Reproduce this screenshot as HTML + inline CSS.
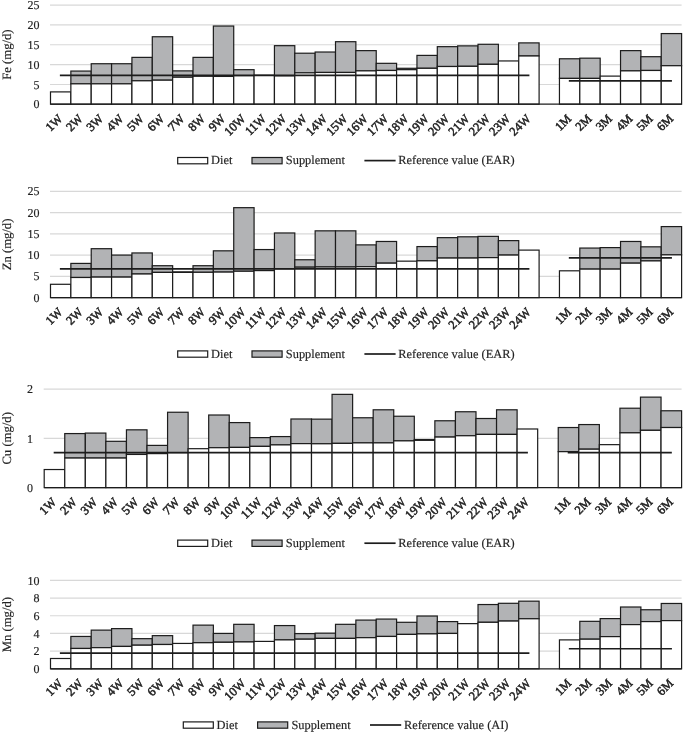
<!DOCTYPE html>
<html><head><meta charset="utf-8"><title>Mineral intake charts</title>
<style>html,body{margin:0;padding:0;background:#fff}svg{display:block}text{stroke:#222222;stroke-width:.15px;text-rendering:geometricPrecision}text.xl{stroke-width:.5px}</style></head>
<body>
<svg width="685" height="735" viewBox="0 0 685 735" font-family="'Liberation Serif', 'Times New Roman', serif" font-size="12.4" fill="#222222">
<rect width="685" height="735" fill="#fff"/>
<g>
<text x="39.40" y="108.35" text-anchor="end" font-size="12">0</text>
<line x1="50.00" x2="681.60" y1="84.46" y2="84.46" stroke="#d8d8d8" stroke-width="1.15"/>
<text x="39.40" y="88.51" text-anchor="end" font-size="12">5</text>
<line x1="50.00" x2="681.60" y1="64.62" y2="64.62" stroke="#d8d8d8" stroke-width="1.15"/>
<text x="39.40" y="68.67" text-anchor="end" font-size="12">10</text>
<line x1="50.00" x2="681.60" y1="44.78" y2="44.78" stroke="#d8d8d8" stroke-width="1.15"/>
<text x="39.40" y="48.83" text-anchor="end" font-size="12">15</text>
<line x1="50.00" x2="681.60" y1="24.94" y2="24.94" stroke="#d8d8d8" stroke-width="1.15"/>
<text x="39.40" y="28.99" text-anchor="end" font-size="12">20</text>
<line x1="50.00" x2="681.60" y1="5.10" y2="5.10" stroke="#d8d8d8" stroke-width="1.15"/>
<text x="39.40" y="9.15" text-anchor="end" font-size="12">25</text>
<text transform="translate(10.9 54.60) rotate(-90)" text-anchor="middle" font-size="12.7">Fe (mg/d)</text>
<rect x="50.50" y="91.90" width="20.36" height="12.30" fill="#fff" stroke="#1c1c1c" stroke-width="1.2"/>
<rect x="70.86" y="71.07" width="20.36" height="12.78" fill="#b2b3b5" stroke="#1c1c1c" stroke-width="1.2"/>
<rect x="70.86" y="83.84" width="20.36" height="20.36" fill="#fff" stroke="#1c1c1c" stroke-width="1.2"/>
<rect x="91.22" y="63.73" width="20.36" height="20.12" fill="#b2b3b5" stroke="#1c1c1c" stroke-width="1.2"/>
<rect x="91.22" y="83.84" width="20.36" height="20.36" fill="#fff" stroke="#1c1c1c" stroke-width="1.2"/>
<rect x="111.57" y="63.73" width="20.36" height="20.12" fill="#b2b3b5" stroke="#1c1c1c" stroke-width="1.2"/>
<rect x="111.57" y="83.84" width="20.36" height="20.36" fill="#fff" stroke="#1c1c1c" stroke-width="1.2"/>
<rect x="131.93" y="57.38" width="20.36" height="23.41" fill="#b2b3b5" stroke="#1c1c1c" stroke-width="1.2"/>
<rect x="131.93" y="80.79" width="20.36" height="23.41" fill="#fff" stroke="#1c1c1c" stroke-width="1.2"/>
<rect x="152.29" y="36.74" width="20.36" height="43.45" fill="#b2b3b5" stroke="#1c1c1c" stroke-width="1.2"/>
<rect x="152.29" y="80.19" width="20.36" height="24.01" fill="#fff" stroke="#1c1c1c" stroke-width="1.2"/>
<rect x="172.65" y="70.87" width="20.36" height="6.35" fill="#b2b3b5" stroke="#1c1c1c" stroke-width="1.2"/>
<rect x="172.65" y="77.22" width="20.36" height="26.98" fill="#fff" stroke="#1c1c1c" stroke-width="1.2"/>
<rect x="193.01" y="57.38" width="20.36" height="18.85" fill="#b2b3b5" stroke="#1c1c1c" stroke-width="1.2"/>
<rect x="193.01" y="76.23" width="20.36" height="27.97" fill="#fff" stroke="#1c1c1c" stroke-width="1.2"/>
<rect x="213.36" y="26.03" width="20.36" height="50.39" fill="#b2b3b5" stroke="#1c1c1c" stroke-width="1.2"/>
<rect x="213.36" y="76.42" width="20.36" height="27.78" fill="#fff" stroke="#1c1c1c" stroke-width="1.2"/>
<rect x="233.72" y="69.68" width="20.36" height="5.95" fill="#b2b3b5" stroke="#1c1c1c" stroke-width="1.2"/>
<rect x="233.72" y="75.63" width="20.36" height="28.57" fill="#fff" stroke="#1c1c1c" stroke-width="1.2"/>
<rect x="254.08" y="75.23" width="20.36" height="28.97" fill="#fff" stroke="#1c1c1c" stroke-width="1.2"/>
<rect x="274.44" y="45.67" width="20.36" height="30.16" fill="#b2b3b5" stroke="#1c1c1c" stroke-width="1.2"/>
<rect x="274.44" y="75.83" width="20.36" height="28.37" fill="#fff" stroke="#1c1c1c" stroke-width="1.2"/>
<rect x="294.80" y="53.21" width="20.36" height="19.64" fill="#b2b3b5" stroke="#1c1c1c" stroke-width="1.2"/>
<rect x="294.80" y="72.85" width="20.36" height="31.35" fill="#fff" stroke="#1c1c1c" stroke-width="1.2"/>
<rect x="315.15" y="52.02" width="20.36" height="20.44" fill="#b2b3b5" stroke="#1c1c1c" stroke-width="1.2"/>
<rect x="315.15" y="72.46" width="20.36" height="31.74" fill="#fff" stroke="#1c1c1c" stroke-width="1.2"/>
<rect x="335.51" y="41.70" width="20.36" height="30.75" fill="#b2b3b5" stroke="#1c1c1c" stroke-width="1.2"/>
<rect x="335.51" y="72.46" width="20.36" height="31.74" fill="#fff" stroke="#1c1c1c" stroke-width="1.2"/>
<rect x="355.87" y="50.63" width="20.36" height="20.24" fill="#b2b3b5" stroke="#1c1c1c" stroke-width="1.2"/>
<rect x="355.87" y="70.87" width="20.36" height="33.33" fill="#fff" stroke="#1c1c1c" stroke-width="1.2"/>
<rect x="376.23" y="63.33" width="20.36" height="7.14" fill="#b2b3b5" stroke="#1c1c1c" stroke-width="1.2"/>
<rect x="376.23" y="70.47" width="20.36" height="33.73" fill="#fff" stroke="#1c1c1c" stroke-width="1.2"/>
<rect x="396.59" y="68.29" width="20.36" height="1.39" fill="#b2b3b5" stroke="#1c1c1c" stroke-width="1.2"/>
<rect x="396.59" y="69.68" width="20.36" height="34.52" fill="#fff" stroke="#1c1c1c" stroke-width="1.2"/>
<rect x="416.95" y="55.39" width="20.36" height="12.90" fill="#b2b3b5" stroke="#1c1c1c" stroke-width="1.2"/>
<rect x="416.95" y="68.29" width="20.36" height="35.91" fill="#fff" stroke="#1c1c1c" stroke-width="1.2"/>
<rect x="437.30" y="46.66" width="20.36" height="19.84" fill="#b2b3b5" stroke="#1c1c1c" stroke-width="1.2"/>
<rect x="437.30" y="66.50" width="20.36" height="37.70" fill="#fff" stroke="#1c1c1c" stroke-width="1.2"/>
<rect x="457.66" y="45.87" width="20.36" height="20.44" fill="#b2b3b5" stroke="#1c1c1c" stroke-width="1.2"/>
<rect x="457.66" y="66.31" width="20.36" height="37.89" fill="#fff" stroke="#1c1c1c" stroke-width="1.2"/>
<rect x="478.02" y="44.28" width="20.36" height="20.04" fill="#b2b3b5" stroke="#1c1c1c" stroke-width="1.2"/>
<rect x="478.02" y="64.32" width="20.36" height="39.88" fill="#fff" stroke="#1c1c1c" stroke-width="1.2"/>
<rect x="498.38" y="60.95" width="20.36" height="43.25" fill="#fff" stroke="#1c1c1c" stroke-width="1.2"/>
<rect x="518.74" y="42.89" width="20.36" height="13.09" fill="#b2b3b5" stroke="#1c1c1c" stroke-width="1.2"/>
<rect x="518.74" y="55.99" width="20.36" height="48.21" fill="#fff" stroke="#1c1c1c" stroke-width="1.2"/>
<rect x="559.45" y="58.77" width="20.36" height="19.64" fill="#b2b3b5" stroke="#1c1c1c" stroke-width="1.2"/>
<rect x="559.45" y="78.41" width="20.36" height="25.79" fill="#fff" stroke="#1c1c1c" stroke-width="1.2"/>
<rect x="579.81" y="58.17" width="20.36" height="20.24" fill="#b2b3b5" stroke="#1c1c1c" stroke-width="1.2"/>
<rect x="579.81" y="78.41" width="20.36" height="25.79" fill="#fff" stroke="#1c1c1c" stroke-width="1.2"/>
<rect x="600.17" y="76.11" width="20.36" height="28.09" fill="#fff" stroke="#1c1c1c" stroke-width="1.2"/>
<rect x="620.53" y="50.63" width="20.36" height="20.24" fill="#b2b3b5" stroke="#1c1c1c" stroke-width="1.2"/>
<rect x="620.53" y="70.87" width="20.36" height="33.33" fill="#fff" stroke="#1c1c1c" stroke-width="1.2"/>
<rect x="640.88" y="56.70" width="20.36" height="13.77" fill="#b2b3b5" stroke="#1c1c1c" stroke-width="1.2"/>
<rect x="640.88" y="70.47" width="20.36" height="33.73" fill="#fff" stroke="#1c1c1c" stroke-width="1.2"/>
<rect x="661.24" y="33.57" width="20.36" height="32.14" fill="#b2b3b5" stroke="#1c1c1c" stroke-width="1.2"/>
<rect x="661.24" y="65.71" width="20.36" height="38.49" fill="#fff" stroke="#1c1c1c" stroke-width="1.2"/>
<line x1="50.50" x2="681.60" y1="104.20" y2="104.20" stroke="#1c1c1c" stroke-width="1.2"/>
<line x1="59.88" x2="529.41" y1="75.31" y2="75.31" stroke="#1c1c1c" stroke-width="1.7"/>
<line x1="568.83" x2="671.92" y1="80.79" y2="80.79" stroke="#1c1c1c" stroke-width="1.7"/>
<text transform="translate(63.18 119.40) rotate(-45)" text-anchor="end" class="xl">1W</text>
<text transform="translate(83.54 119.40) rotate(-45)" text-anchor="end" class="xl">2W</text>
<text transform="translate(103.90 119.40) rotate(-45)" text-anchor="end" class="xl">3W</text>
<text transform="translate(124.25 119.40) rotate(-45)" text-anchor="end" class="xl">4W</text>
<text transform="translate(144.61 119.40) rotate(-45)" text-anchor="end" class="xl">5W</text>
<text transform="translate(164.97 119.40) rotate(-45)" text-anchor="end" class="xl">6W</text>
<text transform="translate(185.33 119.40) rotate(-45)" text-anchor="end" class="xl">7W</text>
<text transform="translate(205.69 119.40) rotate(-45)" text-anchor="end" class="xl">8W</text>
<text transform="translate(226.04 119.40) rotate(-45)" text-anchor="end" class="xl">9W</text>
<text transform="translate(246.40 119.40) rotate(-45)" text-anchor="end" class="xl">10W</text>
<text transform="translate(266.76 119.40) rotate(-45)" text-anchor="end" class="xl">11W</text>
<text transform="translate(287.12 119.40) rotate(-45)" text-anchor="end" class="xl">12W</text>
<text transform="translate(307.48 119.40) rotate(-45)" text-anchor="end" class="xl">13W</text>
<text transform="translate(327.83 119.40) rotate(-45)" text-anchor="end" class="xl">14W</text>
<text transform="translate(348.19 119.40) rotate(-45)" text-anchor="end" class="xl">15W</text>
<text transform="translate(368.55 119.40) rotate(-45)" text-anchor="end" class="xl">16W</text>
<text transform="translate(388.91 119.40) rotate(-45)" text-anchor="end" class="xl">17W</text>
<text transform="translate(409.27 119.40) rotate(-45)" text-anchor="end" class="xl">18W</text>
<text transform="translate(429.62 119.40) rotate(-45)" text-anchor="end" class="xl">19W</text>
<text transform="translate(449.98 119.40) rotate(-45)" text-anchor="end" class="xl">20W</text>
<text transform="translate(470.34 119.40) rotate(-45)" text-anchor="end" class="xl">21W</text>
<text transform="translate(490.70 119.40) rotate(-45)" text-anchor="end" class="xl">22W</text>
<text transform="translate(511.06 119.40) rotate(-45)" text-anchor="end" class="xl">23W</text>
<text transform="translate(531.41 119.40) rotate(-45)" text-anchor="end" class="xl">24W</text>
<text transform="translate(572.13 119.40) rotate(-45)" text-anchor="end" class="xl">1M</text>
<text transform="translate(592.49 119.40) rotate(-45)" text-anchor="end" class="xl">2M</text>
<text transform="translate(612.85 119.40) rotate(-45)" text-anchor="end" class="xl">3M</text>
<text transform="translate(633.20 119.40) rotate(-45)" text-anchor="end" class="xl">4M</text>
<text transform="translate(653.56 119.40) rotate(-45)" text-anchor="end" class="xl">5M</text>
<text transform="translate(673.92 119.40) rotate(-45)" text-anchor="end" class="xl">6M</text>
<rect x="177.70" y="157.50" width="30.0" height="6.3" fill="#fff" stroke="#1c1c1c" stroke-width="1.2"/>
<text x="211.00" y="164.40">Diet</text>
<rect x="252.00" y="157.50" width="30.1" height="6.3" fill="#b2b3b5" stroke="#1c1c1c" stroke-width="1.2"/>
<text x="285.80" y="164.40">Supplement</text>
<line x1="364.40" x2="395.60" y1="160.60" y2="160.60" stroke="#1c1c1c" stroke-width="1.7"/>
<text x="398.30" y="164.40">Reference value (EAR)</text>
</g>
<g>
<text x="39.40" y="301.75" text-anchor="end" font-size="12">0</text>
<line x1="50.00" x2="681.60" y1="276.34" y2="276.34" stroke="#d8d8d8" stroke-width="1.15"/>
<text x="39.40" y="280.49" text-anchor="end" font-size="12">5</text>
<line x1="50.00" x2="681.60" y1="255.08" y2="255.08" stroke="#d8d8d8" stroke-width="1.15"/>
<text x="39.40" y="259.23" text-anchor="end" font-size="12">10</text>
<line x1="50.00" x2="681.60" y1="233.82" y2="233.82" stroke="#d8d8d8" stroke-width="1.15"/>
<text x="39.40" y="237.97" text-anchor="end" font-size="12">15</text>
<line x1="50.00" x2="681.60" y1="212.56" y2="212.56" stroke="#d8d8d8" stroke-width="1.15"/>
<text x="39.40" y="216.71" text-anchor="end" font-size="12">20</text>
<line x1="50.00" x2="681.60" y1="191.30" y2="191.30" stroke="#d8d8d8" stroke-width="1.15"/>
<text x="39.40" y="195.45" text-anchor="end" font-size="12">25</text>
<text transform="translate(10.9 244.45) rotate(-90)" text-anchor="middle" font-size="12.7">Zn (mg/d)</text>
<rect x="50.50" y="284.29" width="20.36" height="13.31" fill="#fff" stroke="#1c1c1c" stroke-width="1.2"/>
<rect x="70.86" y="263.41" width="20.36" height="14.07" fill="#b2b3b5" stroke="#1c1c1c" stroke-width="1.2"/>
<rect x="70.86" y="277.49" width="20.36" height="20.11" fill="#fff" stroke="#1c1c1c" stroke-width="1.2"/>
<rect x="91.22" y="248.70" width="20.36" height="28.40" fill="#b2b3b5" stroke="#1c1c1c" stroke-width="1.2"/>
<rect x="91.22" y="277.11" width="20.36" height="20.49" fill="#fff" stroke="#1c1c1c" stroke-width="1.2"/>
<rect x="111.57" y="255.08" width="20.36" height="22.03" fill="#b2b3b5" stroke="#1c1c1c" stroke-width="1.2"/>
<rect x="111.57" y="277.11" width="20.36" height="20.49" fill="#fff" stroke="#1c1c1c" stroke-width="1.2"/>
<rect x="131.93" y="252.95" width="20.36" height="21.05" fill="#b2b3b5" stroke="#1c1c1c" stroke-width="1.2"/>
<rect x="131.93" y="274.00" width="20.36" height="23.60" fill="#fff" stroke="#1c1c1c" stroke-width="1.2"/>
<rect x="152.29" y="265.71" width="20.36" height="6.68" fill="#b2b3b5" stroke="#1c1c1c" stroke-width="1.2"/>
<rect x="152.29" y="272.39" width="20.36" height="25.21" fill="#fff" stroke="#1c1c1c" stroke-width="1.2"/>
<rect x="172.65" y="271.88" width="20.36" height="0.51" fill="#b2b3b5" stroke="#1c1c1c" stroke-width="1.2"/>
<rect x="172.65" y="272.39" width="20.36" height="25.21" fill="#fff" stroke="#1c1c1c" stroke-width="1.2"/>
<rect x="193.01" y="265.71" width="20.36" height="6.59" fill="#b2b3b5" stroke="#1c1c1c" stroke-width="1.2"/>
<rect x="193.01" y="272.30" width="20.36" height="25.30" fill="#fff" stroke="#1c1c1c" stroke-width="1.2"/>
<rect x="213.36" y="250.83" width="20.36" height="21.26" fill="#b2b3b5" stroke="#1c1c1c" stroke-width="1.2"/>
<rect x="213.36" y="272.09" width="20.36" height="25.51" fill="#fff" stroke="#1c1c1c" stroke-width="1.2"/>
<rect x="233.72" y="207.67" width="20.36" height="63.57" fill="#b2b3b5" stroke="#1c1c1c" stroke-width="1.2"/>
<rect x="233.72" y="271.24" width="20.36" height="26.36" fill="#fff" stroke="#1c1c1c" stroke-width="1.2"/>
<rect x="254.08" y="249.55" width="20.36" height="21.05" fill="#b2b3b5" stroke="#1c1c1c" stroke-width="1.2"/>
<rect x="254.08" y="270.60" width="20.36" height="27.00" fill="#fff" stroke="#1c1c1c" stroke-width="1.2"/>
<rect x="274.44" y="232.97" width="20.36" height="35.72" fill="#b2b3b5" stroke="#1c1c1c" stroke-width="1.2"/>
<rect x="274.44" y="268.69" width="20.36" height="28.91" fill="#fff" stroke="#1c1c1c" stroke-width="1.2"/>
<rect x="294.80" y="259.76" width="20.36" height="7.44" fill="#b2b3b5" stroke="#1c1c1c" stroke-width="1.2"/>
<rect x="294.80" y="267.20" width="20.36" height="30.40" fill="#fff" stroke="#1c1c1c" stroke-width="1.2"/>
<rect x="315.15" y="230.84" width="20.36" height="36.14" fill="#b2b3b5" stroke="#1c1c1c" stroke-width="1.2"/>
<rect x="315.15" y="266.99" width="20.36" height="30.61" fill="#fff" stroke="#1c1c1c" stroke-width="1.2"/>
<rect x="335.51" y="230.84" width="20.36" height="36.14" fill="#b2b3b5" stroke="#1c1c1c" stroke-width="1.2"/>
<rect x="335.51" y="266.99" width="20.36" height="30.61" fill="#fff" stroke="#1c1c1c" stroke-width="1.2"/>
<rect x="355.87" y="244.88" width="20.36" height="21.81" fill="#b2b3b5" stroke="#1c1c1c" stroke-width="1.2"/>
<rect x="355.87" y="266.69" width="20.36" height="30.91" fill="#fff" stroke="#1c1c1c" stroke-width="1.2"/>
<rect x="376.23" y="241.47" width="20.36" height="21.69" fill="#b2b3b5" stroke="#1c1c1c" stroke-width="1.2"/>
<rect x="376.23" y="263.16" width="20.36" height="34.44" fill="#fff" stroke="#1c1c1c" stroke-width="1.2"/>
<rect x="396.59" y="261.16" width="20.36" height="36.44" fill="#fff" stroke="#1c1c1c" stroke-width="1.2"/>
<rect x="416.95" y="246.58" width="20.36" height="14.24" fill="#b2b3b5" stroke="#1c1c1c" stroke-width="1.2"/>
<rect x="416.95" y="260.82" width="20.36" height="36.78" fill="#fff" stroke="#1c1c1c" stroke-width="1.2"/>
<rect x="437.30" y="237.65" width="20.36" height="20.41" fill="#b2b3b5" stroke="#1c1c1c" stroke-width="1.2"/>
<rect x="437.30" y="258.06" width="20.36" height="39.54" fill="#fff" stroke="#1c1c1c" stroke-width="1.2"/>
<rect x="457.66" y="236.80" width="20.36" height="21.26" fill="#b2b3b5" stroke="#1c1c1c" stroke-width="1.2"/>
<rect x="457.66" y="258.06" width="20.36" height="39.54" fill="#fff" stroke="#1c1c1c" stroke-width="1.2"/>
<rect x="478.02" y="236.37" width="20.36" height="21.26" fill="#b2b3b5" stroke="#1c1c1c" stroke-width="1.2"/>
<rect x="478.02" y="257.63" width="20.36" height="39.97" fill="#fff" stroke="#1c1c1c" stroke-width="1.2"/>
<rect x="498.38" y="240.62" width="20.36" height="14.46" fill="#b2b3b5" stroke="#1c1c1c" stroke-width="1.2"/>
<rect x="498.38" y="255.08" width="20.36" height="42.52" fill="#fff" stroke="#1c1c1c" stroke-width="1.2"/>
<rect x="518.74" y="250.11" width="20.36" height="47.49" fill="#fff" stroke="#1c1c1c" stroke-width="1.2"/>
<rect x="559.45" y="270.81" width="20.36" height="26.79" fill="#fff" stroke="#1c1c1c" stroke-width="1.2"/>
<rect x="579.81" y="248.06" width="20.36" height="21.05" fill="#b2b3b5" stroke="#1c1c1c" stroke-width="1.2"/>
<rect x="579.81" y="269.11" width="20.36" height="28.49" fill="#fff" stroke="#1c1c1c" stroke-width="1.2"/>
<rect x="600.17" y="247.60" width="20.36" height="21.52" fill="#b2b3b5" stroke="#1c1c1c" stroke-width="1.2"/>
<rect x="600.17" y="269.11" width="20.36" height="28.49" fill="#fff" stroke="#1c1c1c" stroke-width="1.2"/>
<rect x="620.53" y="241.47" width="20.36" height="21.69" fill="#b2b3b5" stroke="#1c1c1c" stroke-width="1.2"/>
<rect x="620.53" y="263.16" width="20.36" height="34.44" fill="#fff" stroke="#1c1c1c" stroke-width="1.2"/>
<rect x="640.88" y="246.83" width="20.36" height="14.07" fill="#b2b3b5" stroke="#1c1c1c" stroke-width="1.2"/>
<rect x="640.88" y="260.91" width="20.36" height="36.69" fill="#fff" stroke="#1c1c1c" stroke-width="1.2"/>
<rect x="661.24" y="226.59" width="20.36" height="28.28" fill="#b2b3b5" stroke="#1c1c1c" stroke-width="1.2"/>
<rect x="661.24" y="254.87" width="20.36" height="42.73" fill="#fff" stroke="#1c1c1c" stroke-width="1.2"/>
<line x1="50.50" x2="681.60" y1="297.60" y2="297.60" stroke="#1c1c1c" stroke-width="1.2"/>
<line x1="59.88" x2="529.41" y1="268.86" y2="268.86" stroke="#1c1c1c" stroke-width="1.7"/>
<line x1="568.83" x2="671.92" y1="257.89" y2="257.89" stroke="#1c1c1c" stroke-width="1.7"/>
<text transform="translate(63.18 312.80) rotate(-45)" text-anchor="end" class="xl">1W</text>
<text transform="translate(83.54 312.80) rotate(-45)" text-anchor="end" class="xl">2W</text>
<text transform="translate(103.90 312.80) rotate(-45)" text-anchor="end" class="xl">3W</text>
<text transform="translate(124.25 312.80) rotate(-45)" text-anchor="end" class="xl">4W</text>
<text transform="translate(144.61 312.80) rotate(-45)" text-anchor="end" class="xl">5W</text>
<text transform="translate(164.97 312.80) rotate(-45)" text-anchor="end" class="xl">6W</text>
<text transform="translate(185.33 312.80) rotate(-45)" text-anchor="end" class="xl">7W</text>
<text transform="translate(205.69 312.80) rotate(-45)" text-anchor="end" class="xl">8W</text>
<text transform="translate(226.04 312.80) rotate(-45)" text-anchor="end" class="xl">9W</text>
<text transform="translate(246.40 312.80) rotate(-45)" text-anchor="end" class="xl">10W</text>
<text transform="translate(266.76 312.80) rotate(-45)" text-anchor="end" class="xl">11W</text>
<text transform="translate(287.12 312.80) rotate(-45)" text-anchor="end" class="xl">12W</text>
<text transform="translate(307.48 312.80) rotate(-45)" text-anchor="end" class="xl">13W</text>
<text transform="translate(327.83 312.80) rotate(-45)" text-anchor="end" class="xl">14W</text>
<text transform="translate(348.19 312.80) rotate(-45)" text-anchor="end" class="xl">15W</text>
<text transform="translate(368.55 312.80) rotate(-45)" text-anchor="end" class="xl">16W</text>
<text transform="translate(388.91 312.80) rotate(-45)" text-anchor="end" class="xl">17W</text>
<text transform="translate(409.27 312.80) rotate(-45)" text-anchor="end" class="xl">18W</text>
<text transform="translate(429.62 312.80) rotate(-45)" text-anchor="end" class="xl">19W</text>
<text transform="translate(449.98 312.80) rotate(-45)" text-anchor="end" class="xl">20W</text>
<text transform="translate(470.34 312.80) rotate(-45)" text-anchor="end" class="xl">21W</text>
<text transform="translate(490.70 312.80) rotate(-45)" text-anchor="end" class="xl">22W</text>
<text transform="translate(511.06 312.80) rotate(-45)" text-anchor="end" class="xl">23W</text>
<text transform="translate(531.41 312.80) rotate(-45)" text-anchor="end" class="xl">24W</text>
<text transform="translate(572.13 312.80) rotate(-45)" text-anchor="end" class="xl">1M</text>
<text transform="translate(592.49 312.80) rotate(-45)" text-anchor="end" class="xl">2M</text>
<text transform="translate(612.85 312.80) rotate(-45)" text-anchor="end" class="xl">3M</text>
<text transform="translate(633.20 312.80) rotate(-45)" text-anchor="end" class="xl">4M</text>
<text transform="translate(653.56 312.80) rotate(-45)" text-anchor="end" class="xl">5M</text>
<text transform="translate(673.92 312.80) rotate(-45)" text-anchor="end" class="xl">6M</text>
<rect x="177.70" y="350.90" width="30.0" height="6.3" fill="#fff" stroke="#1c1c1c" stroke-width="1.2"/>
<text x="211.00" y="357.80">Diet</text>
<rect x="252.00" y="350.90" width="30.1" height="6.3" fill="#b2b3b5" stroke="#1c1c1c" stroke-width="1.2"/>
<text x="285.80" y="357.80">Supplement</text>
<line x1="364.40" x2="395.60" y1="354.00" y2="354.00" stroke="#1c1c1c" stroke-width="1.7"/>
<text x="398.30" y="357.80">Reference value (EAR)</text>
</g>
<g>
<text x="33.10" y="491.75" text-anchor="end" font-size="12">0</text>
<line x1="43.70" x2="681.60" y1="438.35" y2="438.35" stroke="#d8d8d8" stroke-width="1.15"/>
<text x="33.10" y="442.50" text-anchor="end" font-size="12">1</text>
<line x1="43.70" x2="681.60" y1="389.10" y2="389.10" stroke="#d8d8d8" stroke-width="1.15"/>
<text x="33.10" y="393.25" text-anchor="end" font-size="12">2</text>
<text transform="translate(10.9 438.35) rotate(-90)" text-anchor="middle" font-size="12.7">Cu (mg/d)</text>
<rect x="44.20" y="469.53" width="20.56" height="18.07" fill="#fff" stroke="#1c1c1c" stroke-width="1.2"/>
<rect x="64.76" y="433.57" width="20.56" height="24.48" fill="#b2b3b5" stroke="#1c1c1c" stroke-width="1.2"/>
<rect x="64.76" y="458.05" width="20.56" height="29.55" fill="#fff" stroke="#1c1c1c" stroke-width="1.2"/>
<rect x="85.32" y="433.08" width="20.56" height="24.97" fill="#b2b3b5" stroke="#1c1c1c" stroke-width="1.2"/>
<rect x="85.32" y="458.05" width="20.56" height="29.55" fill="#fff" stroke="#1c1c1c" stroke-width="1.2"/>
<rect x="105.88" y="441.31" width="20.56" height="16.74" fill="#b2b3b5" stroke="#1c1c1c" stroke-width="1.2"/>
<rect x="105.88" y="458.05" width="20.56" height="29.55" fill="#fff" stroke="#1c1c1c" stroke-width="1.2"/>
<rect x="126.45" y="429.83" width="20.56" height="24.62" fill="#b2b3b5" stroke="#1c1c1c" stroke-width="1.2"/>
<rect x="126.45" y="454.45" width="20.56" height="33.15" fill="#fff" stroke="#1c1c1c" stroke-width="1.2"/>
<rect x="147.01" y="445.39" width="20.56" height="8.22" fill="#b2b3b5" stroke="#1c1c1c" stroke-width="1.2"/>
<rect x="147.01" y="453.62" width="20.56" height="33.98" fill="#fff" stroke="#1c1c1c" stroke-width="1.2"/>
<rect x="167.57" y="412.25" width="20.56" height="40.39" fill="#b2b3b5" stroke="#1c1c1c" stroke-width="1.2"/>
<rect x="167.57" y="452.63" width="20.56" height="34.97" fill="#fff" stroke="#1c1c1c" stroke-width="1.2"/>
<rect x="188.13" y="448.69" width="20.56" height="38.91" fill="#fff" stroke="#1c1c1c" stroke-width="1.2"/>
<rect x="208.69" y="415.01" width="20.56" height="32.70" fill="#b2b3b5" stroke="#1c1c1c" stroke-width="1.2"/>
<rect x="208.69" y="447.71" width="20.56" height="39.89" fill="#fff" stroke="#1c1c1c" stroke-width="1.2"/>
<rect x="229.25" y="422.59" width="20.56" height="24.82" fill="#b2b3b5" stroke="#1c1c1c" stroke-width="1.2"/>
<rect x="229.25" y="447.41" width="20.56" height="40.19" fill="#fff" stroke="#1c1c1c" stroke-width="1.2"/>
<rect x="249.81" y="437.61" width="20.56" height="8.77" fill="#b2b3b5" stroke="#1c1c1c" stroke-width="1.2"/>
<rect x="249.81" y="446.38" width="20.56" height="41.22" fill="#fff" stroke="#1c1c1c" stroke-width="1.2"/>
<rect x="270.37" y="436.58" width="20.56" height="8.32" fill="#b2b3b5" stroke="#1c1c1c" stroke-width="1.2"/>
<rect x="270.37" y="444.90" width="20.56" height="42.70" fill="#fff" stroke="#1c1c1c" stroke-width="1.2"/>
<rect x="290.94" y="418.99" width="20.56" height="24.62" fill="#b2b3b5" stroke="#1c1c1c" stroke-width="1.2"/>
<rect x="290.94" y="443.62" width="20.56" height="43.98" fill="#fff" stroke="#1c1c1c" stroke-width="1.2"/>
<rect x="311.50" y="419.14" width="20.56" height="24.62" fill="#b2b3b5" stroke="#1c1c1c" stroke-width="1.2"/>
<rect x="311.50" y="443.77" width="20.56" height="43.83" fill="#fff" stroke="#1c1c1c" stroke-width="1.2"/>
<rect x="332.06" y="394.37" width="20.56" height="49.00" fill="#b2b3b5" stroke="#1c1c1c" stroke-width="1.2"/>
<rect x="332.06" y="443.37" width="20.56" height="44.23" fill="#fff" stroke="#1c1c1c" stroke-width="1.2"/>
<rect x="352.62" y="417.76" width="20.56" height="25.12" fill="#b2b3b5" stroke="#1c1c1c" stroke-width="1.2"/>
<rect x="352.62" y="442.88" width="20.56" height="44.72" fill="#fff" stroke="#1c1c1c" stroke-width="1.2"/>
<rect x="373.18" y="409.79" width="20.56" height="33.10" fill="#b2b3b5" stroke="#1c1c1c" stroke-width="1.2"/>
<rect x="373.18" y="442.88" width="20.56" height="44.72" fill="#fff" stroke="#1c1c1c" stroke-width="1.2"/>
<rect x="393.74" y="416.24" width="20.56" height="24.63" fill="#b2b3b5" stroke="#1c1c1c" stroke-width="1.2"/>
<rect x="393.74" y="440.86" width="20.56" height="46.74" fill="#fff" stroke="#1c1c1c" stroke-width="1.2"/>
<rect x="414.30" y="439.63" width="20.56" height="0.69" fill="#b2b3b5" stroke="#1c1c1c" stroke-width="1.2"/>
<rect x="414.30" y="440.32" width="20.56" height="47.28" fill="#fff" stroke="#1c1c1c" stroke-width="1.2"/>
<rect x="434.86" y="420.77" width="20.56" height="16.30" fill="#b2b3b5" stroke="#1c1c1c" stroke-width="1.2"/>
<rect x="434.86" y="437.07" width="20.56" height="50.53" fill="#fff" stroke="#1c1c1c" stroke-width="1.2"/>
<rect x="455.43" y="411.75" width="20.56" height="23.98" fill="#b2b3b5" stroke="#1c1c1c" stroke-width="1.2"/>
<rect x="455.43" y="435.74" width="20.56" height="51.86" fill="#fff" stroke="#1c1c1c" stroke-width="1.2"/>
<rect x="475.99" y="418.50" width="20.56" height="15.91" fill="#b2b3b5" stroke="#1c1c1c" stroke-width="1.2"/>
<rect x="475.99" y="434.41" width="20.56" height="53.19" fill="#fff" stroke="#1c1c1c" stroke-width="1.2"/>
<rect x="496.55" y="409.79" width="20.56" height="24.62" fill="#b2b3b5" stroke="#1c1c1c" stroke-width="1.2"/>
<rect x="496.55" y="434.41" width="20.56" height="53.19" fill="#fff" stroke="#1c1c1c" stroke-width="1.2"/>
<rect x="517.11" y="428.99" width="20.56" height="58.61" fill="#fff" stroke="#1c1c1c" stroke-width="1.2"/>
<rect x="558.23" y="427.52" width="20.56" height="24.13" fill="#b2b3b5" stroke="#1c1c1c" stroke-width="1.2"/>
<rect x="558.23" y="451.65" width="20.56" height="35.95" fill="#fff" stroke="#1c1c1c" stroke-width="1.2"/>
<rect x="578.79" y="424.56" width="20.56" height="24.62" fill="#b2b3b5" stroke="#1c1c1c" stroke-width="1.2"/>
<rect x="578.79" y="449.19" width="20.56" height="38.41" fill="#fff" stroke="#1c1c1c" stroke-width="1.2"/>
<rect x="599.35" y="444.65" width="20.56" height="42.95" fill="#fff" stroke="#1c1c1c" stroke-width="1.2"/>
<rect x="619.92" y="408.21" width="20.56" height="24.62" fill="#b2b3b5" stroke="#1c1c1c" stroke-width="1.2"/>
<rect x="619.92" y="432.83" width="20.56" height="54.77" fill="#fff" stroke="#1c1c1c" stroke-width="1.2"/>
<rect x="640.48" y="397.13" width="20.56" height="33.19" fill="#b2b3b5" stroke="#1c1c1c" stroke-width="1.2"/>
<rect x="640.48" y="430.32" width="20.56" height="57.28" fill="#fff" stroke="#1c1c1c" stroke-width="1.2"/>
<rect x="661.04" y="410.77" width="20.56" height="16.75" fill="#b2b3b5" stroke="#1c1c1c" stroke-width="1.2"/>
<rect x="661.04" y="427.52" width="20.56" height="60.09" fill="#fff" stroke="#1c1c1c" stroke-width="1.2"/>
<line x1="44.20" x2="681.60" y1="487.60" y2="487.60" stroke="#1c1c1c" stroke-width="1.2"/>
<line x1="53.68" x2="527.89" y1="452.63" y2="452.63" stroke="#1c1c1c" stroke-width="1.7"/>
<line x1="567.71" x2="671.82" y1="452.63" y2="452.63" stroke="#1c1c1c" stroke-width="1.7"/>
<text transform="translate(56.98 502.80) rotate(-45)" text-anchor="end" class="xl">1W</text>
<text transform="translate(77.54 502.80) rotate(-45)" text-anchor="end" class="xl">2W</text>
<text transform="translate(98.10 502.80) rotate(-45)" text-anchor="end" class="xl">3W</text>
<text transform="translate(118.66 502.80) rotate(-45)" text-anchor="end" class="xl">4W</text>
<text transform="translate(139.23 502.80) rotate(-45)" text-anchor="end" class="xl">5W</text>
<text transform="translate(159.79 502.80) rotate(-45)" text-anchor="end" class="xl">6W</text>
<text transform="translate(180.35 502.80) rotate(-45)" text-anchor="end" class="xl">7W</text>
<text transform="translate(200.91 502.80) rotate(-45)" text-anchor="end" class="xl">8W</text>
<text transform="translate(221.47 502.80) rotate(-45)" text-anchor="end" class="xl">9W</text>
<text transform="translate(242.03 502.80) rotate(-45)" text-anchor="end" class="xl">10W</text>
<text transform="translate(262.59 502.80) rotate(-45)" text-anchor="end" class="xl">11W</text>
<text transform="translate(283.15 502.80) rotate(-45)" text-anchor="end" class="xl">12W</text>
<text transform="translate(303.72 502.80) rotate(-45)" text-anchor="end" class="xl">13W</text>
<text transform="translate(324.28 502.80) rotate(-45)" text-anchor="end" class="xl">14W</text>
<text transform="translate(344.84 502.80) rotate(-45)" text-anchor="end" class="xl">15W</text>
<text transform="translate(365.40 502.80) rotate(-45)" text-anchor="end" class="xl">16W</text>
<text transform="translate(385.96 502.80) rotate(-45)" text-anchor="end" class="xl">17W</text>
<text transform="translate(406.52 502.80) rotate(-45)" text-anchor="end" class="xl">18W</text>
<text transform="translate(427.08 502.80) rotate(-45)" text-anchor="end" class="xl">19W</text>
<text transform="translate(447.65 502.80) rotate(-45)" text-anchor="end" class="xl">20W</text>
<text transform="translate(468.21 502.80) rotate(-45)" text-anchor="end" class="xl">21W</text>
<text transform="translate(488.77 502.80) rotate(-45)" text-anchor="end" class="xl">22W</text>
<text transform="translate(509.33 502.80) rotate(-45)" text-anchor="end" class="xl">23W</text>
<text transform="translate(529.89 502.80) rotate(-45)" text-anchor="end" class="xl">24W</text>
<text transform="translate(571.01 502.80) rotate(-45)" text-anchor="end" class="xl">1M</text>
<text transform="translate(591.57 502.80) rotate(-45)" text-anchor="end" class="xl">2M</text>
<text transform="translate(612.14 502.80) rotate(-45)" text-anchor="end" class="xl">3M</text>
<text transform="translate(632.70 502.80) rotate(-45)" text-anchor="end" class="xl">4M</text>
<text transform="translate(653.26 502.80) rotate(-45)" text-anchor="end" class="xl">5M</text>
<text transform="translate(673.82 502.80) rotate(-45)" text-anchor="end" class="xl">6M</text>
<rect x="177.70" y="540.10" width="30.0" height="6.3" fill="#fff" stroke="#1c1c1c" stroke-width="1.2"/>
<text x="211.00" y="547.00">Diet</text>
<rect x="252.00" y="540.10" width="30.1" height="6.3" fill="#b2b3b5" stroke="#1c1c1c" stroke-width="1.2"/>
<text x="285.80" y="547.00">Supplement</text>
<line x1="364.40" x2="395.60" y1="543.20" y2="543.20" stroke="#1c1c1c" stroke-width="1.7"/>
<text x="398.30" y="547.00">Reference value (EAR)</text>
</g>
<g>
<text x="39.40" y="672.95" text-anchor="end" font-size="12">0</text>
<line x1="50.00" x2="681.60" y1="651.12" y2="651.12" stroke="#d8d8d8" stroke-width="1.15"/>
<text x="39.40" y="655.27" text-anchor="end" font-size="12">2</text>
<line x1="50.00" x2="681.60" y1="633.44" y2="633.44" stroke="#d8d8d8" stroke-width="1.15"/>
<text x="39.40" y="637.59" text-anchor="end" font-size="12">4</text>
<line x1="50.00" x2="681.60" y1="615.76" y2="615.76" stroke="#d8d8d8" stroke-width="1.15"/>
<text x="39.40" y="619.91" text-anchor="end" font-size="12">6</text>
<line x1="50.00" x2="681.60" y1="598.08" y2="598.08" stroke="#d8d8d8" stroke-width="1.15"/>
<text x="39.40" y="602.23" text-anchor="end" font-size="12">8</text>
<line x1="50.00" x2="681.60" y1="580.40" y2="580.40" stroke="#d8d8d8" stroke-width="1.15"/>
<text x="39.40" y="584.55" text-anchor="end" font-size="12">10</text>
<text transform="translate(10.9 624.60) rotate(-90)" text-anchor="middle" font-size="12.7">Mn (mg/d)</text>
<rect x="50.50" y="658.50" width="20.36" height="10.30" fill="#fff" stroke="#1c1c1c" stroke-width="1.2"/>
<rect x="70.86" y="636.45" width="20.36" height="12.02" fill="#b2b3b5" stroke="#1c1c1c" stroke-width="1.2"/>
<rect x="70.86" y="648.47" width="20.36" height="20.33" fill="#fff" stroke="#1c1c1c" stroke-width="1.2"/>
<rect x="91.22" y="630.12" width="20.36" height="17.55" fill="#b2b3b5" stroke="#1c1c1c" stroke-width="1.2"/>
<rect x="91.22" y="647.67" width="20.36" height="21.13" fill="#fff" stroke="#1c1c1c" stroke-width="1.2"/>
<rect x="111.57" y="628.62" width="20.36" height="17.81" fill="#b2b3b5" stroke="#1c1c1c" stroke-width="1.2"/>
<rect x="111.57" y="646.43" width="20.36" height="22.37" fill="#fff" stroke="#1c1c1c" stroke-width="1.2"/>
<rect x="131.93" y="638.66" width="20.36" height="6.54" fill="#b2b3b5" stroke="#1c1c1c" stroke-width="1.2"/>
<rect x="131.93" y="645.20" width="20.36" height="23.60" fill="#fff" stroke="#1c1c1c" stroke-width="1.2"/>
<rect x="152.29" y="635.65" width="20.36" height="8.84" fill="#b2b3b5" stroke="#1c1c1c" stroke-width="1.2"/>
<rect x="152.29" y="644.49" width="20.36" height="24.31" fill="#fff" stroke="#1c1c1c" stroke-width="1.2"/>
<rect x="172.65" y="643.43" width="20.36" height="25.37" fill="#fff" stroke="#1c1c1c" stroke-width="1.2"/>
<rect x="193.01" y="625.13" width="20.36" height="17.59" fill="#b2b3b5" stroke="#1c1c1c" stroke-width="1.2"/>
<rect x="193.01" y="642.72" width="20.36" height="26.08" fill="#fff" stroke="#1c1c1c" stroke-width="1.2"/>
<rect x="213.36" y="633.44" width="20.36" height="8.84" fill="#b2b3b5" stroke="#1c1c1c" stroke-width="1.2"/>
<rect x="213.36" y="642.28" width="20.36" height="26.52" fill="#fff" stroke="#1c1c1c" stroke-width="1.2"/>
<rect x="233.72" y="624.33" width="20.36" height="17.59" fill="#b2b3b5" stroke="#1c1c1c" stroke-width="1.2"/>
<rect x="233.72" y="641.93" width="20.36" height="26.87" fill="#fff" stroke="#1c1c1c" stroke-width="1.2"/>
<rect x="254.08" y="641.40" width="20.36" height="27.40" fill="#fff" stroke="#1c1c1c" stroke-width="1.2"/>
<rect x="274.44" y="625.57" width="20.36" height="14.32" fill="#b2b3b5" stroke="#1c1c1c" stroke-width="1.2"/>
<rect x="274.44" y="639.89" width="20.36" height="28.91" fill="#fff" stroke="#1c1c1c" stroke-width="1.2"/>
<rect x="294.80" y="633.62" width="20.36" height="5.57" fill="#b2b3b5" stroke="#1c1c1c" stroke-width="1.2"/>
<rect x="294.80" y="639.19" width="20.36" height="29.61" fill="#fff" stroke="#1c1c1c" stroke-width="1.2"/>
<rect x="315.15" y="633.17" width="20.36" height="5.22" fill="#b2b3b5" stroke="#1c1c1c" stroke-width="1.2"/>
<rect x="315.15" y="638.39" width="20.36" height="30.41" fill="#fff" stroke="#1c1c1c" stroke-width="1.2"/>
<rect x="335.51" y="624.33" width="20.36" height="14.06" fill="#b2b3b5" stroke="#1c1c1c" stroke-width="1.2"/>
<rect x="335.51" y="638.39" width="20.36" height="30.41" fill="#fff" stroke="#1c1c1c" stroke-width="1.2"/>
<rect x="355.87" y="620.09" width="20.36" height="17.59" fill="#b2b3b5" stroke="#1c1c1c" stroke-width="1.2"/>
<rect x="355.87" y="637.68" width="20.36" height="31.12" fill="#fff" stroke="#1c1c1c" stroke-width="1.2"/>
<rect x="376.23" y="619.07" width="20.36" height="17.37" fill="#b2b3b5" stroke="#1c1c1c" stroke-width="1.2"/>
<rect x="376.23" y="636.45" width="20.36" height="32.35" fill="#fff" stroke="#1c1c1c" stroke-width="1.2"/>
<rect x="396.59" y="622.30" width="20.36" height="12.11" fill="#b2b3b5" stroke="#1c1c1c" stroke-width="1.2"/>
<rect x="396.59" y="634.41" width="20.36" height="34.39" fill="#fff" stroke="#1c1c1c" stroke-width="1.2"/>
<rect x="416.95" y="616.03" width="20.36" height="17.86" fill="#b2b3b5" stroke="#1c1c1c" stroke-width="1.2"/>
<rect x="416.95" y="633.88" width="20.36" height="34.92" fill="#fff" stroke="#1c1c1c" stroke-width="1.2"/>
<rect x="437.30" y="621.59" width="20.36" height="11.85" fill="#b2b3b5" stroke="#1c1c1c" stroke-width="1.2"/>
<rect x="437.30" y="633.44" width="20.36" height="35.36" fill="#fff" stroke="#1c1c1c" stroke-width="1.2"/>
<rect x="457.66" y="623.63" width="20.36" height="45.17" fill="#fff" stroke="#1c1c1c" stroke-width="1.2"/>
<rect x="478.02" y="604.53" width="20.36" height="17.77" fill="#b2b3b5" stroke="#1c1c1c" stroke-width="1.2"/>
<rect x="478.02" y="622.30" width="20.36" height="46.50" fill="#fff" stroke="#1c1c1c" stroke-width="1.2"/>
<rect x="498.38" y="603.30" width="20.36" height="17.77" fill="#b2b3b5" stroke="#1c1c1c" stroke-width="1.2"/>
<rect x="498.38" y="621.06" width="20.36" height="47.74" fill="#fff" stroke="#1c1c1c" stroke-width="1.2"/>
<rect x="518.74" y="601.17" width="20.36" height="17.59" fill="#b2b3b5" stroke="#1c1c1c" stroke-width="1.2"/>
<rect x="518.74" y="618.77" width="20.36" height="50.03" fill="#fff" stroke="#1c1c1c" stroke-width="1.2"/>
<rect x="559.45" y="639.89" width="20.36" height="28.91" fill="#fff" stroke="#1c1c1c" stroke-width="1.2"/>
<rect x="579.81" y="621.33" width="20.36" height="17.86" fill="#b2b3b5" stroke="#1c1c1c" stroke-width="1.2"/>
<rect x="579.81" y="639.19" width="20.36" height="29.61" fill="#fff" stroke="#1c1c1c" stroke-width="1.2"/>
<rect x="600.17" y="618.59" width="20.36" height="18.03" fill="#b2b3b5" stroke="#1c1c1c" stroke-width="1.2"/>
<rect x="600.17" y="636.62" width="20.36" height="32.18" fill="#fff" stroke="#1c1c1c" stroke-width="1.2"/>
<rect x="620.53" y="607.01" width="20.36" height="17.59" fill="#b2b3b5" stroke="#1c1c1c" stroke-width="1.2"/>
<rect x="620.53" y="624.60" width="20.36" height="44.20" fill="#fff" stroke="#1c1c1c" stroke-width="1.2"/>
<rect x="640.88" y="609.75" width="20.36" height="11.85" fill="#b2b3b5" stroke="#1c1c1c" stroke-width="1.2"/>
<rect x="640.88" y="621.59" width="20.36" height="47.21" fill="#fff" stroke="#1c1c1c" stroke-width="1.2"/>
<rect x="661.24" y="603.47" width="20.36" height="17.15" fill="#b2b3b5" stroke="#1c1c1c" stroke-width="1.2"/>
<rect x="661.24" y="620.62" width="20.36" height="48.18" fill="#fff" stroke="#1c1c1c" stroke-width="1.2"/>
<line x1="50.50" x2="681.60" y1="668.80" y2="668.80" stroke="#1c1c1c" stroke-width="1.2"/>
<line x1="59.88" x2="529.41" y1="653.06" y2="653.06" stroke="#1c1c1c" stroke-width="1.7"/>
<line x1="568.83" x2="671.92" y1="648.73" y2="648.73" stroke="#1c1c1c" stroke-width="1.7"/>
<text transform="translate(63.18 684.00) rotate(-45)" text-anchor="end" class="xl">1W</text>
<text transform="translate(83.54 684.00) rotate(-45)" text-anchor="end" class="xl">2W</text>
<text transform="translate(103.90 684.00) rotate(-45)" text-anchor="end" class="xl">3W</text>
<text transform="translate(124.25 684.00) rotate(-45)" text-anchor="end" class="xl">4W</text>
<text transform="translate(144.61 684.00) rotate(-45)" text-anchor="end" class="xl">5W</text>
<text transform="translate(164.97 684.00) rotate(-45)" text-anchor="end" class="xl">6W</text>
<text transform="translate(185.33 684.00) rotate(-45)" text-anchor="end" class="xl">7W</text>
<text transform="translate(205.69 684.00) rotate(-45)" text-anchor="end" class="xl">8W</text>
<text transform="translate(226.04 684.00) rotate(-45)" text-anchor="end" class="xl">9W</text>
<text transform="translate(246.40 684.00) rotate(-45)" text-anchor="end" class="xl">10W</text>
<text transform="translate(266.76 684.00) rotate(-45)" text-anchor="end" class="xl">11W</text>
<text transform="translate(287.12 684.00) rotate(-45)" text-anchor="end" class="xl">12W</text>
<text transform="translate(307.48 684.00) rotate(-45)" text-anchor="end" class="xl">13W</text>
<text transform="translate(327.83 684.00) rotate(-45)" text-anchor="end" class="xl">14W</text>
<text transform="translate(348.19 684.00) rotate(-45)" text-anchor="end" class="xl">15W</text>
<text transform="translate(368.55 684.00) rotate(-45)" text-anchor="end" class="xl">16W</text>
<text transform="translate(388.91 684.00) rotate(-45)" text-anchor="end" class="xl">17W</text>
<text transform="translate(409.27 684.00) rotate(-45)" text-anchor="end" class="xl">18W</text>
<text transform="translate(429.62 684.00) rotate(-45)" text-anchor="end" class="xl">19W</text>
<text transform="translate(449.98 684.00) rotate(-45)" text-anchor="end" class="xl">20W</text>
<text transform="translate(470.34 684.00) rotate(-45)" text-anchor="end" class="xl">21W</text>
<text transform="translate(490.70 684.00) rotate(-45)" text-anchor="end" class="xl">22W</text>
<text transform="translate(511.06 684.00) rotate(-45)" text-anchor="end" class="xl">23W</text>
<text transform="translate(531.41 684.00) rotate(-45)" text-anchor="end" class="xl">24W</text>
<text transform="translate(572.13 684.00) rotate(-45)" text-anchor="end" class="xl">1M</text>
<text transform="translate(592.49 684.00) rotate(-45)" text-anchor="end" class="xl">2M</text>
<text transform="translate(612.85 684.00) rotate(-45)" text-anchor="end" class="xl">3M</text>
<text transform="translate(633.20 684.00) rotate(-45)" text-anchor="end" class="xl">4M</text>
<text transform="translate(653.56 684.00) rotate(-45)" text-anchor="end" class="xl">5M</text>
<text transform="translate(673.92 684.00) rotate(-45)" text-anchor="end" class="xl">6M</text>
<rect x="183.30" y="721.90" width="30.0" height="6.3" fill="#fff" stroke="#1c1c1c" stroke-width="1.2"/>
<text x="216.60" y="728.80">Diet</text>
<rect x="257.60" y="721.90" width="30.1" height="6.3" fill="#b2b3b5" stroke="#1c1c1c" stroke-width="1.2"/>
<text x="291.40" y="728.80">Supplement</text>
<line x1="370.00" x2="401.20" y1="725.00" y2="725.00" stroke="#1c1c1c" stroke-width="1.7"/>
<text x="403.90" y="728.80">Reference value (AI)</text>
</g>
</svg>
</body></html>
